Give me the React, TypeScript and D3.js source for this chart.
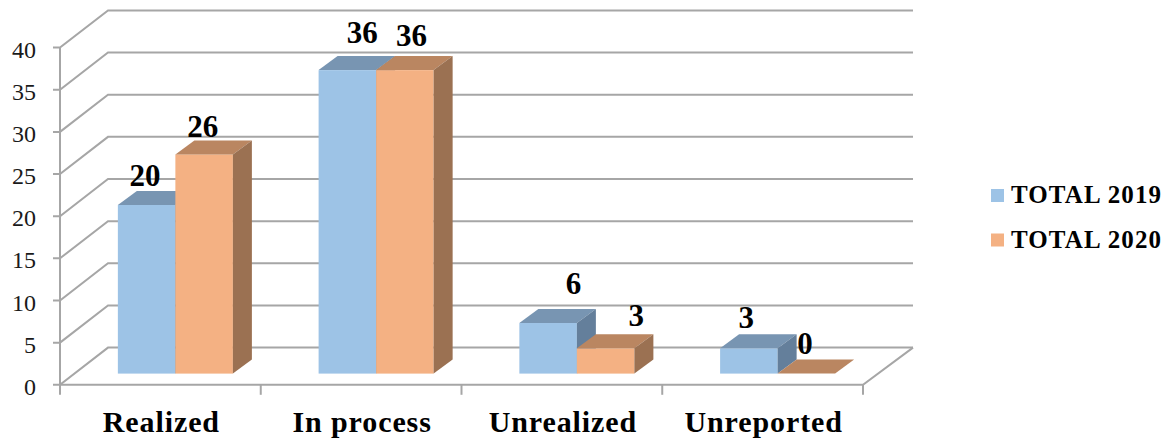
import React from "react";
import * as d3 from "d3";

const categories = ["Realized", "In process", "Unrealized", "Unreported"];
const seriesNames = ["TOTAL 2019", "TOTAL 2020"];
const total2019 = [20, 36, 6, 3];
const total2020 = [26, 36, 3, 0];
const yTicks = [0, 5, 10, 15, 20, 25, 30, 35, 40];

const W = 1170, H = 439;
const FONT = "'Liberation Serif', 'Times New Roman', serif";
const GRID = "#A6A6A6";
const COLORS = [
  { front: "#9DC3E6", top: "#7895B2", side: "#647F9B" },
  { front: "#F4B183", top: "#BA8661", side: "#9B7152" },
];
// plot geometry
const X0 = 60, X1 = 863, Y0 = 384.8, Y40 = 47.6;
const WALL_DX = 48, WALL_DY = -37.2, RIGHT_DX = 50;
const BAR_DX = 19, BAR_DY = -14, BAR_SHIFT_X = 15, BAR_SHIFT_Y = -11.2;
// hand-placed label nudges of the original chart, relative to the bar's front top centre
const LABEL_NUDGE = [
  [[-1.5, -19], [-1.5, -17.5]],
  [[15, -27], [6.5, -24]],
  [[25.5, -29], [30.5, -22.5]],
  [[-2.5, -20], [-1.5, -19.5]],
];

const y = d3.scaleLinear().domain([0, 40]).range([Y0, Y40]);
const band = d3.scaleBand<string>().domain(categories).range([X0, X1]).paddingInner(0.427).paddingOuter(0.2135);
const inner = d3.scaleBand<string>().domain(seriesNames).range([0, band.bandwidth()]);
const poly = d3.line<[number, number]>().x((d) => d[0]).y((d) => d[1]);
const closed = (p: [number, number][]) => poly(p)! + "Z";

export default function App() {
  const series = [total2019, total2020];
  const step = band.step();
  const tickXs = d3.range(categories.length + 1).map((i) => X0 + i * step);
  return (
    <svg width={W} height={H} style={{ position: "absolute", left: 0, top: 0, background: "#fff" }} fontFamily={FONT}>
      <g stroke={GRID} strokeWidth={2} fill="none">
        {yTicks.map((t) => (
          <path key={t} d={poly([[X0 - 7, y(t)], [X0, y(t)], [X0 + WALL_DX, y(t) + WALL_DY], [X1 + RIGHT_DX, y(t) + WALL_DY]])!} />
        ))}
        <path d={poly([[X0, y(40)], [X0, y(0)], [X1, y(0)], [X1 + RIGHT_DX, y(0) + WALL_DY]])!} />
        {tickXs.map((x) => (
          <path key={x} d={poly([[x, y(0)], [x, y(0) + 10]])!} />
        ))}
      </g>
      {yTicks.map((t) => (
        <text key={t} x={36} y={y(t) + 10} textAnchor="end" fontSize={24} fill="#1a1a1a">{t}</text>
      ))}
      {categories.map((c, ci) => (
        <g key={c}>
          {series.map((vals, si) => {
            const x0 = band(c)! + inner(seriesNames[si])! + BAR_SHIFT_X;
            const x1 = x0 + inner.bandwidth();
            const yb = y(0) + BAR_SHIFT_Y;
            const yt = yb - (y(0) - y(vals[ci]));
            const col = COLORS[si];
            return (
              <g key={si}>
                {vals[ci] > 0 && <rect x={x0} y={yt} width={x1 - x0} height={yb - yt} fill={col.front} />}
                <path d={closed([[x0, yt], [x1, yt], [x1 + BAR_DX, yt + BAR_DY], [x0 + BAR_DX, yt + BAR_DY]])} fill={col.top} />
                {vals[ci] > 0 && <path d={closed([[x1, yt], [x1 + BAR_DX, yt + BAR_DY], [x1 + BAR_DX, yb + BAR_DY], [x1, yb]])} fill={col.side} />}
              </g>
            );
          })}
        </g>
      ))}
      {categories.map((c, ci) =>
        series.map((vals, si) => {
          const x0 = band(c)! + inner(seriesNames[si])! + BAR_SHIFT_X;
          const yb = y(0) + BAR_SHIFT_Y;
          const yt = yb - (y(0) - y(vals[ci]));
          const [nx, ny] = LABEL_NUDGE[ci][si];
          return (
            <text key={c + si} x={x0 + inner.bandwidth() / 2 + nx} y={yt + ny} textAnchor="middle" fontSize={31} fontWeight={700} fill="#000">{vals[ci]}</text>
          );
        })
      )}
      {categories.map((c) => (
        <text key={c} x={band(c)! + band.bandwidth() / 2 + 1} y={432} textAnchor="middle" fontSize={30} fontWeight={700} letterSpacing={0.9} fill="#000">{c}</text>
      ))}
      {seriesNames.map((s, i) => (
        <g key={s}>
          <rect x={991} y={189 + i * 44.5} width={13} height={13} fill={COLORS[i].front} />
          <text x={1011} y={203 + i * 44.5} fontSize={25} fontWeight={700} letterSpacing={1.1} fill="#000">{s}</text>
        </g>
      ))}
    </svg>
  );
}
